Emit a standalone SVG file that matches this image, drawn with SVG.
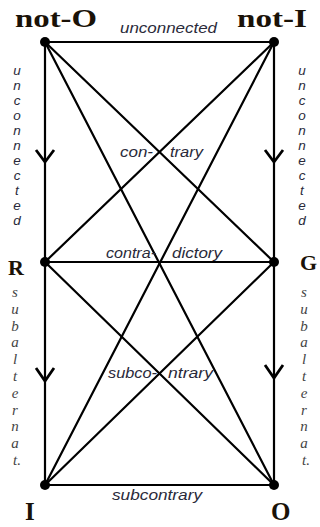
<svg xmlns="http://www.w3.org/2000/svg" width="320" height="527" viewBox="0 0 320 527">
<style>
.ln{stroke:#000;stroke-width:2.2;fill:none;stroke-linecap:round}
.chev{stroke:#000;stroke-width:2.8;fill:none;stroke-linejoin:miter}
.dot{fill:#000}
.big{font-family:"Liberation Serif",serif;font-weight:bold;fill:#1a1208}
.lab{font-family:"Liberation Sans",sans-serif;font-style:italic;font-size:15px;fill:#2a2a3a}
.vt{font-family:"Liberation Sans",sans-serif;font-style:italic;font-size:13.5px;fill:#2a2a3a;text-anchor:middle}
.sv{font-family:"Liberation Serif",serif;font-style:italic;font-size:15px;fill:#444;text-anchor:middle}
</style>
<rect width="320" height="527" fill="#fff"/>
<g id="connectors">
<line class="ln" x1="45" y1="42" x2="274" y2="42"/>
<line class="ln" x1="45" y1="262" x2="274" y2="262"/>
<line class="ln" x1="45" y1="485" x2="274" y2="485"/>
<line class="ln" x1="45" y1="42" x2="45" y2="485"/>
<line class="ln" x1="274" y1="42" x2="274" y2="485"/>
<line class="ln" x1="45" y1="42" x2="274" y2="262"/>
<line class="ln" x1="45" y1="42" x2="274" y2="485"/>
<line class="ln" x1="274" y1="42" x2="45" y2="262"/>
<line class="ln" x1="274" y1="42" x2="45" y2="485"/>
<line class="ln" x1="45" y1="262" x2="274" y2="485"/>
<line class="ln" x1="274" y1="262" x2="45" y2="485"/>
<path class="chev" d="M36,150 L45,162 L54,150"/>
<path class="chev" d="M36,368 L45,381 L54,368"/>
<path class="chev" d="M265,150 L274,162 L283,150"/>
<path class="chev" d="M265,365 L274,378 L283,365"/>
<text class="lab" x="120" y="33" textLength="97" lengthAdjust="spacingAndGlyphs">unconnected</text>
<text class="vt"><tspan x="17" y="75">u</tspan><tspan x="17" dy="15">n</tspan><tspan x="17" dy="15">c</tspan><tspan x="17" dy="15">o</tspan><tspan x="17" dy="15">n</tspan><tspan x="17" dy="15">n</tspan><tspan x="17" dy="15">e</tspan><tspan x="17" dy="15">c</tspan><tspan x="17" dy="15">t</tspan><tspan x="17" dy="15">e</tspan><tspan x="17" dy="15">d</tspan></text>
<text class="vt"><tspan x="302" y="75">u</tspan><tspan x="302" dy="15">n</tspan><tspan x="302" dy="15">c</tspan><tspan x="302" dy="15">o</tspan><tspan x="302" dy="15">n</tspan><tspan x="302" dy="15">n</tspan><tspan x="302" dy="15">e</tspan><tspan x="302" dy="15">c</tspan><tspan x="302" dy="15">t</tspan><tspan x="302" dy="15">e</tspan><tspan x="302" dy="15">d</tspan></text>
<text class="sv"><tspan x="15" y="297">s</tspan><tspan x="15" dy="16.8">u</tspan><tspan x="15" dy="16.8">b</tspan><tspan x="15" dy="16.8">a</tspan><tspan x="15" dy="16.8">l</tspan><tspan x="15" dy="16.8">t</tspan><tspan x="15" dy="16.8">e</tspan><tspan x="15" dy="16.8">r</tspan><tspan x="15" dy="16.8">n</tspan><tspan x="15" dy="16.8">a</tspan><tspan x="17" dy="16.8">t.</tspan></text>
<text class="sv"><tspan x="304" y="297">s</tspan><tspan x="304" dy="16.8">u</tspan><tspan x="304" dy="16.8">b</tspan><tspan x="304" dy="16.8">a</tspan><tspan x="304" dy="16.8">l</tspan><tspan x="304" dy="16.8">t</tspan><tspan x="304" dy="16.8">e</tspan><tspan x="304" dy="16.8">r</tspan><tspan x="304" dy="16.8">n</tspan><tspan x="304" dy="16.8">a</tspan><tspan x="306" dy="16.8">t.</tspan></text>
<text class="lab" x="120" y="157" textLength="33" lengthAdjust="spacingAndGlyphs">con-</text>
<text class="lab" x="170" y="157" textLength="33" lengthAdjust="spacingAndGlyphs">trary</text>
<text class="lab" x="106" y="258" textLength="50" lengthAdjust="spacingAndGlyphs">contra-</text>
<text class="lab" x="172" y="258" textLength="50" lengthAdjust="spacingAndGlyphs">dictory</text>
<text class="lab" x="108" y="378" textLength="49" lengthAdjust="spacingAndGlyphs">subco-</text>
<text class="lab" x="168" y="378" textLength="45" lengthAdjust="spacingAndGlyphs">ntrary</text>
<text class="lab" x="112" y="500" textLength="90" lengthAdjust="spacingAndGlyphs">subcontrary</text>
</g>
<g id="node-notO"><circle class="dot" cx="45" cy="42" r="5"/><text class="big" x="15" y="27" font-size="26" textLength="82" lengthAdjust="spacingAndGlyphs">not-O</text></g>
<g id="node-notI"><circle class="dot" cx="274" cy="42" r="5"/><text class="big" x="237" y="27" font-size="26" textLength="70" lengthAdjust="spacingAndGlyphs">not-I</text></g>
<g id="node-R"><circle class="dot" cx="45" cy="262" r="5"/><text class="big" x="8" y="275" font-size="22">R</text></g>
<g id="node-G"><circle class="dot" cx="274" cy="262" r="5"/><text class="big" x="300" y="270" font-size="22">G</text></g>
<g id="node-I"><circle class="dot" cx="45" cy="485" r="5"/><text class="big" x="25" y="520" font-size="25">I</text></g>
<g id="node-O"><circle class="dot" cx="274" cy="485" r="5"/><text class="big" x="271" y="520" font-size="25">O</text></g>
</svg>
